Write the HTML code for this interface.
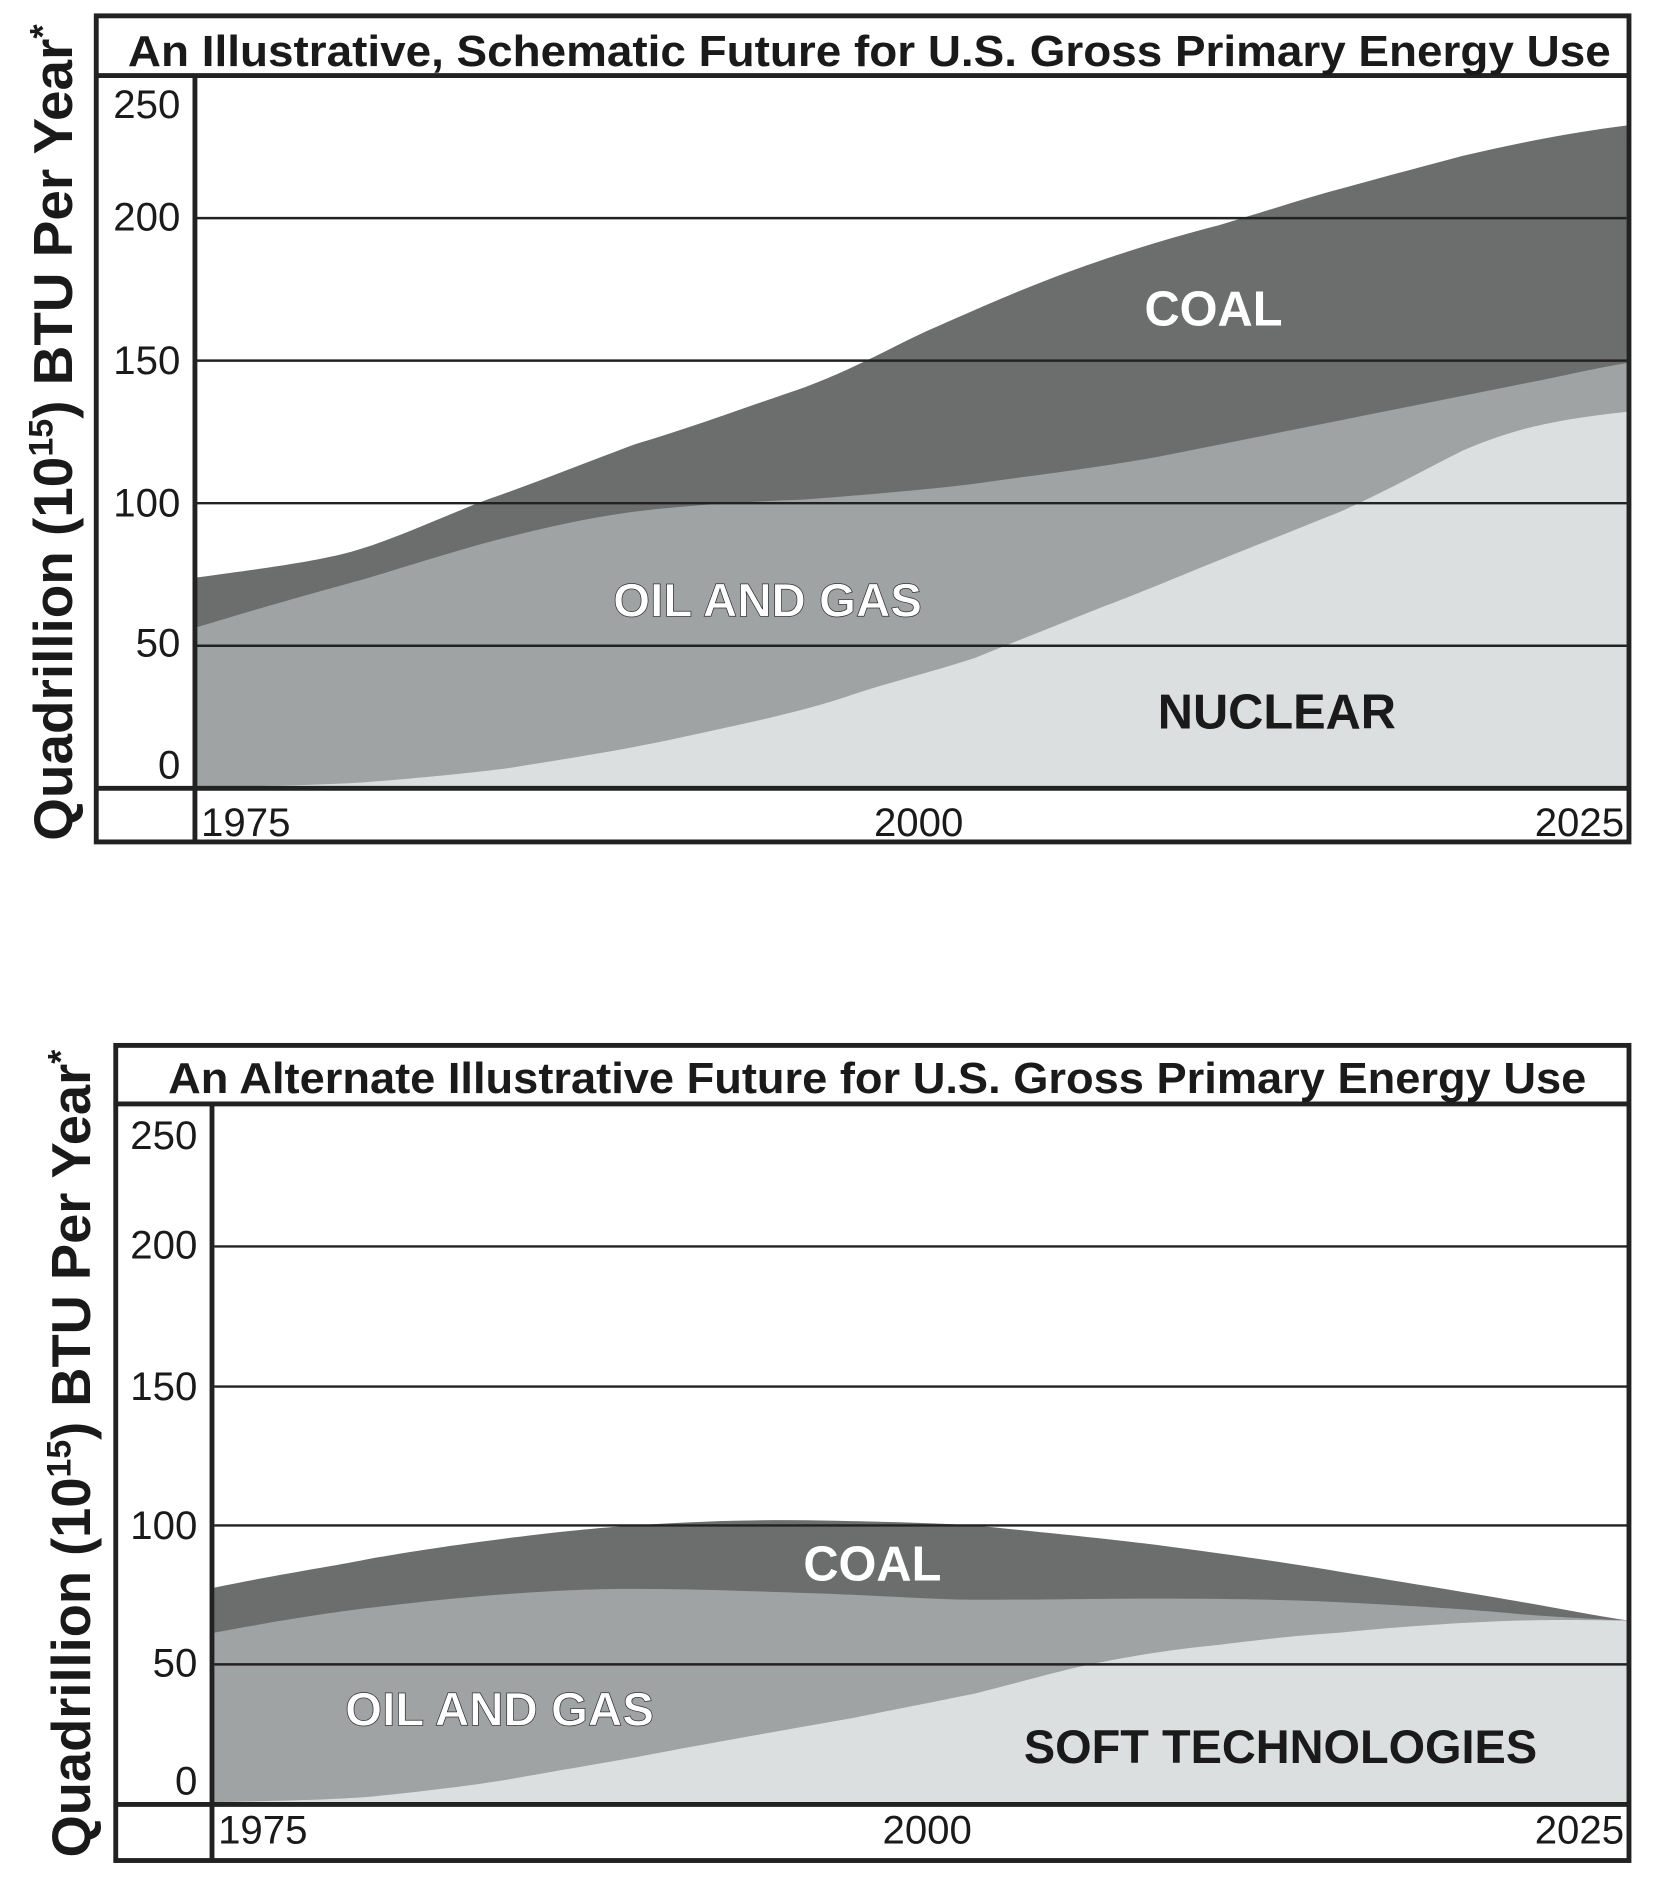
<!DOCTYPE html>
<html><head><meta charset="utf-8"><style>
html,body{margin:0;padding:0;background:#fff;}
svg{display:block;}
text{font-family:"Liberation Sans",Arial,sans-serif;}
</style></head><body>
<svg width="1657" height="1900" viewBox="0 0 1360 1559.4" preserveAspectRatio="none" xmlns="http://www.w3.org/2000/svg">
<rect x="0" y="0" width="1360" height="1560" fill="#fff"/>
<!-- TOP CHART -->
<path d="M161,474 C220,466 250,462 280,455 C320,445 360,425 400,410 C440,396 480,380 520,365 C570,350 610,335 660,318 C700,303 730,286 760,272 C810,250 850,232 900,215 C935,203 965,194 1000,185 C1040,173 1070,163 1100,155 C1140,144 1170,136 1200,128 C1240,119 1280,110 1335,103 L1335,647 L161,647 Z" fill="#6b6e6d"/>
<path d="M161,515 C220,497 260,486 300,475 C340,463 380,450 420,440 C460,430 490,424 520,420 C570,414 610,412 660,410 C710,406 760,402 800,397 C850,390 900,384 950,375 C1000,365 1050,355 1100,345 C1150,335 1200,325 1250,315 C1290,307 1310,302 1335,298 L1335,647 L161,647 Z" fill="#9fa3a4"/>
<path d="M161,646 C230,645 270,644 300,642 C350,638 390,634 420,630 C470,622 520,614 560,605 C610,594 660,584 700,570 C740,557 770,550 800,540 C840,524 870,512 900,500 C940,485 970,472 1000,460 C1040,444 1070,432 1100,420 C1140,402 1170,385 1200,370 C1240,353 1270,345 1335,338 L1335,647 L161,647 Z" fill="#dcdfe0"/>
<g stroke="#222" stroke-width="2">
<line x1="161" y1="179" x2="1335" y2="179"/><line x1="161" y1="296" x2="1335" y2="296"/>
<line x1="161" y1="413" x2="1335" y2="413"/><line x1="161" y1="530" x2="1335" y2="530"/>
</g>
<g fill="none" stroke="#222" stroke-width="4">
<rect x="79" y="13" width="1258" height="678"/>
<line x1="79" y1="62" x2="1337" y2="62"/>
<line x1="79" y1="647" x2="1337" y2="647"/>
<line x1="160" y1="62" x2="160" y2="691"/>
</g>
<text x="105" y="54" font-size="36" font-weight="bold" textLength="1217" lengthAdjust="spacingAndGlyphs" fill="#1a1a1a">An Illustrative, Schematic Future for U.S. Gross Primary Energy Use</text>
<g font-size="33" fill="#1a1a1a" text-anchor="end">
<text x="148" y="97">250</text><text x="148" y="189">200</text><text x="148" y="307">150</text>
<text x="148" y="424">100</text><text x="148" y="539">50</text><text x="148" y="639">0</text>
</g>
<g font-size="33" fill="#1a1a1a">
<text x="165" y="686">1975</text><text x="754" y="686" text-anchor="middle">2000</text><text x="1333" y="686" text-anchor="end">2025</text>
</g>
<text x="996" y="267" font-size="40" font-weight="bold" fill="#fff" text-anchor="middle">COAL</text>
<text x="630" y="506" font-size="39" font-weight="bold" fill="#fff" stroke="#333" stroke-width="0.6" text-anchor="middle">OIL AND GAS</text>
<text x="1048" y="598" font-size="40" font-weight="bold" fill="#1a1a1a" text-anchor="middle">NUCLEAR</text>
<text transform="translate(59,355) rotate(-90)" font-size="45" font-weight="bold" fill="#1a1a1a" text-anchor="middle" textLength="670" lengthAdjust="spacingAndGlyphs">Quadrillion (10<tspan font-size="28" dy="-16">15</tspan><tspan dy="16">) BTU Per Year</tspan><tspan font-size="30" dy="-14">*</tspan></text>

<!-- BOTTOM CHART -->
<path d="M176,1303 C240,1290 270,1286 300,1280 C350,1271 390,1266 420,1262 C460,1257 490,1254 520,1252 C580,1248 630,1247 680,1248 C730,1249 770,1250 800,1252 C860,1258 900,1262 950,1268 C1010,1276 1060,1283 1100,1290 C1160,1300 1210,1308 1250,1315 C1290,1322 1315,1327 1336,1330 L1336,1481 L176,1481 Z" fill="#6b6e6d"/>
<path d="M176,1340 C240,1328 270,1324 300,1320 C350,1314 390,1310 420,1308 C460,1305 490,1304 520,1304 C580,1304 640,1307 680,1308 C730,1310 770,1313 800,1313 C860,1313 900,1312 950,1312 C1010,1312 1060,1313 1100,1315 C1160,1318 1210,1321 1250,1325 C1290,1328 1315,1329 1336,1330 L1336,1481 L176,1481 Z" fill="#9fa3a4"/>
<path d="M176,1479 C240,1478 270,1477 300,1475 C350,1470 390,1465 420,1460 C470,1451 520,1443 560,1435 C620,1424 660,1417 700,1410 C740,1402 770,1396 800,1390 C840,1380 870,1371 900,1365 C940,1357 970,1353 1000,1350 C1040,1345 1070,1342 1100,1340 C1160,1334 1210,1331 1250,1330 C1290,1329 1315,1330 1336,1330 L1336,1481 L176,1481 Z" fill="#dcdfe0"/>
<g stroke="#222" stroke-width="2">
<line x1="176" y1="1023" x2="1336" y2="1023"/><line x1="176" y1="1138" x2="1336" y2="1138"/>
<line x1="176" y1="1252" x2="1336" y2="1252"/><line x1="176" y1="1366" x2="1336" y2="1366"/>
</g>
<g fill="none" stroke="#222" stroke-width="4">
<rect x="95" y="858" width="1242" height="669"/>
<line x1="95" y1="906" x2="1337" y2="906"/>
<line x1="95" y1="1481" x2="1337" y2="1481"/>
<line x1="174" y1="906" x2="174" y2="1527"/>
</g>
<text x="138" y="897" font-size="36" font-weight="bold" textLength="1164" lengthAdjust="spacingAndGlyphs" fill="#1a1a1a">An Alternate Illustrative Future for U.S. Gross Primary Energy Use</text>
<g font-size="33" fill="#1a1a1a" text-anchor="end">
<text x="162" y="943">250</text><text x="162" y="1033">200</text><text x="162" y="1149">150</text>
<text x="162" y="1263">100</text><text x="162" y="1376">50</text><text x="162" y="1473">0</text>
</g>
<g font-size="33" fill="#1a1a1a">
<text x="179" y="1513">1975</text><text x="761" y="1513" text-anchor="middle">2000</text><text x="1333" y="1513" text-anchor="end">2025</text>
</g>
<text x="716" y="1297" font-size="40" font-weight="bold" fill="#fff" text-anchor="middle">COAL</text>
<text x="410" y="1416" font-size="39" font-weight="bold" fill="#fff" stroke="#333" stroke-width="0.6" text-anchor="middle">OIL AND GAS</text>
<text x="1051" y="1447" font-size="38.5" font-weight="bold" fill="#1a1a1a" text-anchor="middle">SOFT TECHNOLOGIES</text>
<text transform="translate(74,1193) rotate(-90)" font-size="45" font-weight="bold" fill="#1a1a1a" text-anchor="middle" textLength="663" lengthAdjust="spacingAndGlyphs">Quadrillion (10<tspan font-size="28" dy="-16">15</tspan><tspan dy="16">) BTU Per Year</tspan><tspan font-size="30" dy="-14">*</tspan></text>
</svg>
</body></html>
